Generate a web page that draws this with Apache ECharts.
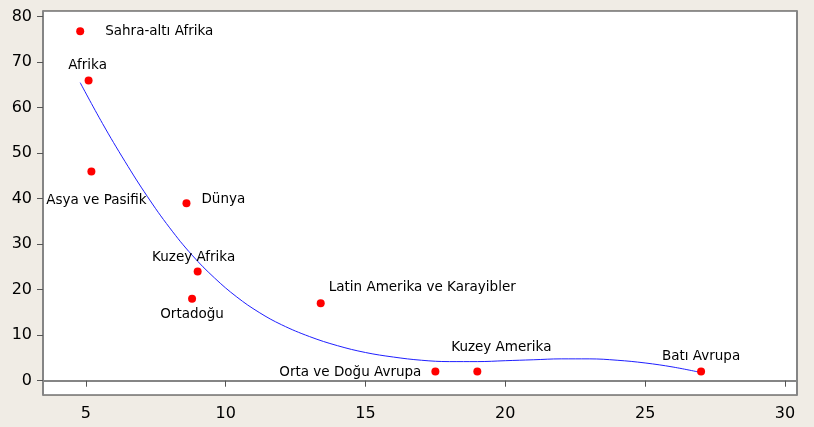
<!DOCTYPE html>
<html>
<head>
<meta charset="utf-8">
<script src="https://cdn.jsdelivr.net/npm/echarts@6/dist/echarts.min.js"></script>
<style>
  html, body { margin: 0; padding: 0; background: #f0ece5; }
  #myChart { width: 814px; height: 427px; }
</style>
</head>
<body>
<div id="myChart"></div>
<script>
// regions and their values
const regions = ["Sahra-altı Afrika", "Afrika", "Asya ve Pasifik", "Dünya", "Kuzey Afrika",
  "Ortadoğu", "Latin Amerika ve Karayibler", "Orta ve Doğu Avrupa", "Kuzey Amerika", "Batı Avrupa"];
const xValues = [4.8, 5.1, 5.2, 8.6, 9.0, 8.8, 13.4, 17.5, 19.0, 27.0];
const yValues = [76.8, 66, 46, 39, 24, 18, 17, 2, 2, 2];

// fitted curve
const curveX = [4.8, 5.6, 6.4, 7.2, 8.0, 8.8, 9.6, 10.4, 11.2, 12.0, 13.0, 14.0, 15.0, 16.0, 17.0, 18.0, 19.0, 20.0, 21.0, 22.0, 23.0, 24.0, 25.0, 26.0, 27.0];
const curveY = [65.5, 56.5, 48.2, 40.5, 33.6, 27.6, 22.6, 18.4, 15.0, 12.3, 9.7, 7.7, 6.2, 5.2, 4.5, 4.2, 4.2, 4.4, 4.6, 4.8, 4.8, 4.5, 3.9, 3.0, 1.8];

const xTicks = [5, 10, 15, 20, 25, 30];
const yTicks = [0, 10, 20, 30, 40, 50, 60, 70, 80];

// where each label sits relative to its dot: [dx, dy, align]
const labelPlace = {
  "Sahra-altı Afrika": [25, 0, "left"],
  "Afrika": [-1, -15, "center"],
  "Asya ve Pasifik": [5, 29, "center"],
  "Dünya": [15, -4, "left"],
  "Kuzey Afrika": [-4, -14, "center"],
  "Ortadoğu": [0, 16, "center"],
  "Latin Amerika ve Karayibler": [8, -16, "left"],
  "Orta ve Doğu Avrupa": [-14, 1, "right"],
  "Kuzey Amerika": [24, -24, "center"],
  "Batı Avrupa": [0, -15, "center"]
};

const points = regions.map(function(name, i) {
  const p = labelPlace[name];
  return {
    name: name,
    value: [xValues[i], yValues[i]],
    label: { offset: [p[0], p[1]], align: p[2] }
  };
});

const curve = curveX.map(function(x, i) { return [x, curveY[i]]; });

const myChart = echarts.init(document.getElementById("myChart"));
const axisFont = { fontFamily: "DejaVu Sans", fontSize: 16, color: "#000" };

const option = {
  backgroundColor: "#f0ece5",
  animation: false,
  grid: {
    left: 43, right: 17, top: 11, bottom: 32,
    show: true, backgroundColor: "#fff", borderColor: "#2b2b2b", borderWidth: 1
  },
  xAxis: {
    type: "value",
    min: 3.47, max: 30.43,
    splitLine: { show: false },
    axisLine: { lineStyle: { color: "#858585", width: 2 } },
    axisTick: { customValues: xTicks, length: 6, lineStyle: { color: "#555" } },
    axisLabel: Object.assign({ customValues: xTicks, margin: 11 }, axisFont)
  },
  yAxis: [{
    type: "value",
    min: -3.14, max: 81.25,
    splitLine: { show: false },
    axisLine: { show: true, lineStyle: { color: "#858585", width: 2 } },
    axisTick: { show: true, customValues: yTicks, length: 6, lineStyle: { color: "#555" } },
    axisLabel: Object.assign({ customValues: yTicks, margin: 11 }, axisFont)
  }, {
    type: "value",
    position: "right",
    min: -3.14, max: 81.25,
    splitLine: { show: false },
    axisLine: { show: true, lineStyle: { color: "#858585", width: 2 } },
    axisTick: { show: false },
    axisLabel: { show: false }
  }],
  series: [{
    type: "line",
    data: curve,
    smooth: 0.4,
    symbol: "none",
    lineStyle: { color: "#1f1fff", width: 1 },
    z: 2
  }, {
    type: "scatter",
    data: points,
    symbolSize: 8,
    itemStyle: { color: "#ff0000", opacity: 1 },
    label: {
      show: true,
      position: "inside",
      formatter: "{b}",
      fontFamily: "DejaVu Sans",
      fontSize: 13.5,
      color: "#000",
      verticalAlign: "middle"
    },
    z: 3
  }]
};

myChart.setOption(option);
</script>
</body>
</html>
